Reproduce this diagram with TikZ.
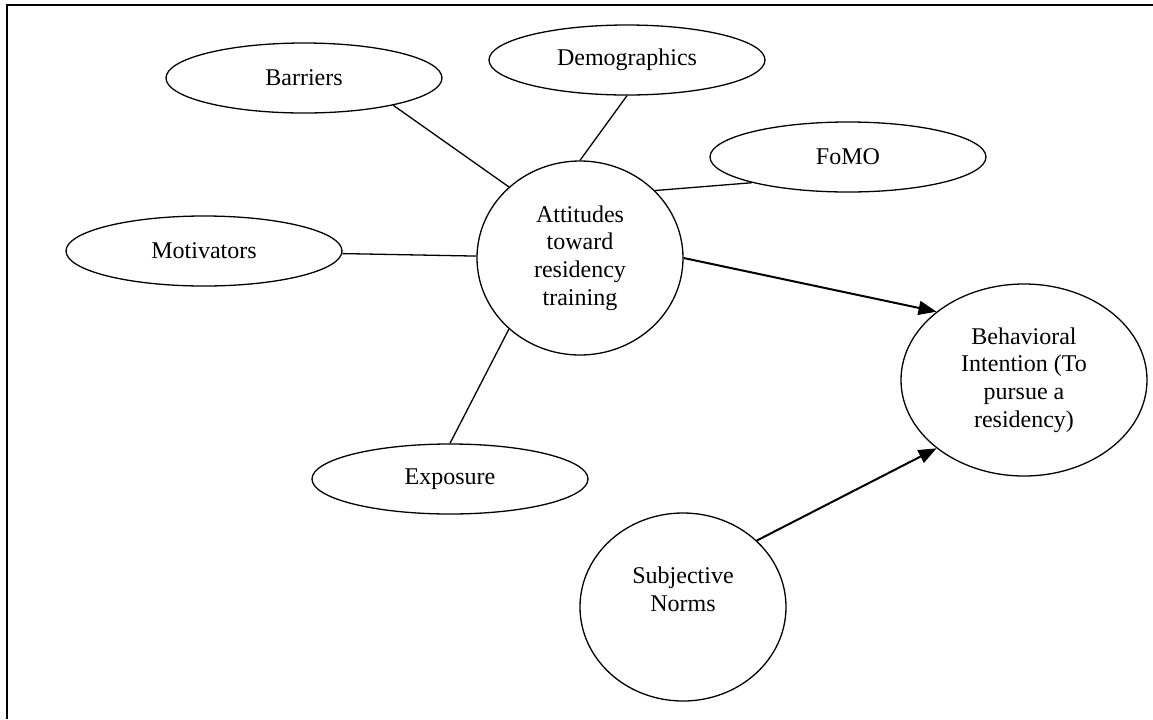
\documentclass[tikz,border=0pt]{standalone}
\usepackage{fontspec}
\setmainfont{Liberation Serif}
\usepackage{tikz}
\usetikzlibrary{arrows.meta}
\usetikzlibrary{shapes.geometric}

\begin{document}
\begin{tikzpicture}[x = 0.5pt, y = -0.5pt, every node/.style={ellipse, draw, line width = 0.65pt, inner sep = 0pt, align = center, font = \fontsize{12}{13.8}\selectfont}, factor/.style={minimum width = 138pt, minimum height = 35pt}, construct/.style={minimum width = 103pt, minimum height = 97pt}, link/.style={line width = 0.65pt}, path/.style={line width = 1pt, -{Triangle[length = 9pt, width = 7pt]}}]
	
	\useasboundingbox (0,0) rectangle (1153,719);
	\draw[line width = 1pt] (7,719) -- (7,5) -- (1153,5);
	
	\node[factor] (barriers) at (304,78) {Barriers};
	\node[factor] (demographics) at (627,60) {Demographics};
	\node[factor] (fomo) at (848,157) {FoMO};
	\node[factor] (motivators) at (204,251) {Motivators};
	\node[factor] (exposure) at (450,479) {Exposure};
	\node[construct] (attitudes) at (580,258) {Attitudes\\toward\\residency\\training};
	\node[construct, minimum width = 123pt, minimum height = 96pt] (intention) at (1024,380) {Behavioral\\Intention (To\\pursue a\\residency)};
	\node[construct, minimum height = 94pt] (norms) at (683,607) {Subjective\\Norms\\\strut};
	
	\draw[link] (barriers.-17) -- (attitudes.135);
	\draw[link] (demographics.south) -- (attitudes.north);
	\draw[link] (fomo.195) -- (attitudes.42);
	\draw[link] (motivators) -- (attitudes);
	\draw[link] (exposure.north) -- (attitudes.225);
	
	\draw[path] (attitudes.east) -- (intention.142);
	\draw[path] (norms.42) -- (intention.218);
	
\end{tikzpicture}
\end{document}
